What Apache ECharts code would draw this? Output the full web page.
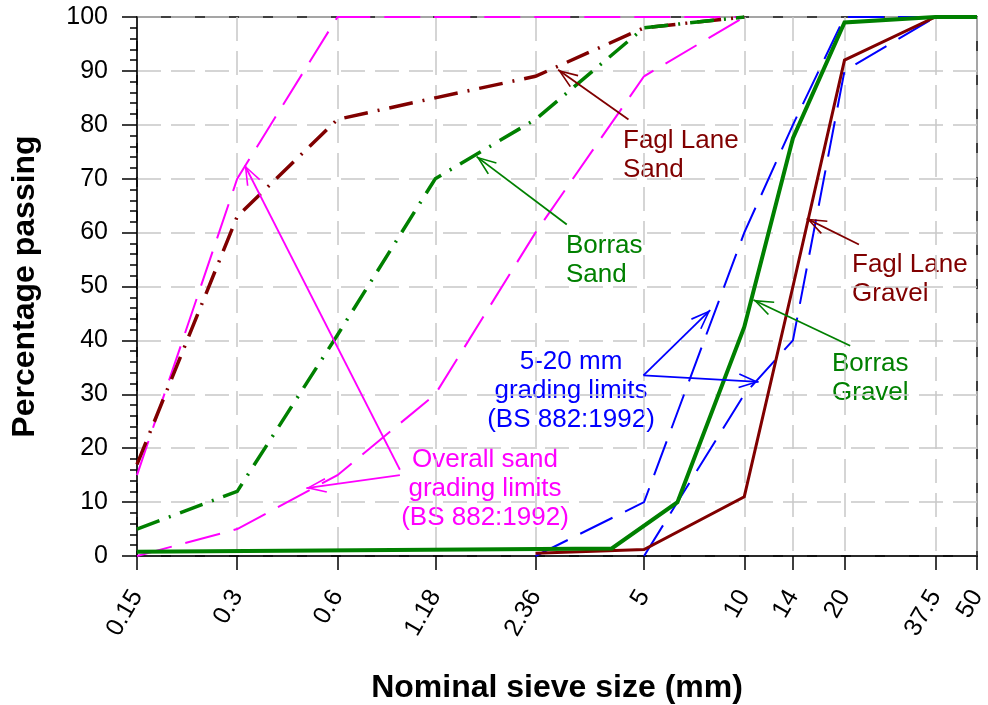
<!DOCTYPE html>
<html>
<head>
<meta charset="utf-8">
<title>Grading curves</title>
<script src="https://cdn.jsdelivr.net/npm/echarts@6.0.0/dist/echarts.min.js"></script>
<style>
  html, body { margin: 0; padding: 0; background: #fff; }
  #chart { width: 988px; height: 705px; }
</style>
</head>
<body>
<div id="chart"></div>
<script>
// Sieve sizes shown on the x axis (mm) and their labels
const sieveTicks = [0.15, 0.3, 0.6, 1.18, 2.36, 5, 10, 14, 20, 37.5, 50];
const sieveTickLabels = ['0.15', '0.3', '0.6', '1.18', '2.36', '5', '10', '14', '20', '37.5', '50'];

// BS 882:1992 overall sand grading limits
const sandUpperSize = [0.15, 0.3, 0.6, 1.18, 2.36, 5, 10];
const sandUpperPass = [15, 70, 100, 100, 100, 100, 100];
const sandLowerSize = [0.15, 0.3, 0.6, 1.18, 2.36, 5, 10];
const sandLowerPass = [0, 5, 15, 30, 60, 89, 100];

// BS 882:1992 5-20 mm graded aggregate limits
const gravelUpperSize = [2.36, 5, 10, 14, 20, 37.5, 50];
const gravelUpperPass = [0, 10, 60, 80, 100, 100, 100];
const gravelLowerSize = [5, 10, 14, 20, 37.5, 50];
const gravelLowerPass = [0, 30, 40, 90, 100, 100];

// Measured gradings
const faglSandSize = [0.15, 0.3, 0.6, 1.18, 2.36, 5, 10];
const faglSandPass = [17, 63, 81, 85, 89, 98, 100];
const borrasSandSize = [0.15, 0.3, 0.6, 1.18, 2.36, 5, 10];
const borrasSandPass = [5, 12, 41, 70, 81, 98, 100];
const borrasGravelSize = [0.15, 4, 6.3, 10, 14, 20, 37.5, 50];
const borrasGravelPass = [0.8, 1.4, 10, 42.5, 77.5, 99, 100, 100];
const faglGravelSize = [2.36, 5, 10, 14, 20, 37.5, 50];
const faglGravelPass = [0.5, 1.2, 11, 50, 92, 100, 100];

const pairs = (xs, ys) => xs.map((x, i) => [x, ys[i]]);

const MAGENTA = '#ff00ff';
const BLUE = '#0000ff';
const GREEN = '#008000';
const DARKRED = '#800000';
const FONT = 'Liberation Sans, Arial, sans-serif';

// Open "V" arrowhead; the invisible speck above keeps the tip at the symbol centre
const ARROW = 'path://M0,-18L0.01,-18L0,-17.99Z M0,0L7,18L5.6,18.6L0,4.0L-5.6,18.6L-7,18Z';

function pointer(color, lines) {
  return {
    silent: true,
    symbol: ['none', ARROW],
    symbolSize: [15, 40],
    label: { show: false },
    lineStyle: { color: color, width: 1.8, type: 'solid' },
    emphasis: { disabled: true },
    data: lines.map(l => [{ coord: l[0] }, { coord: l[1] }])
  };
}

function lineSeries(name, data, color, width, dash, extra) {
  return Object.assign({
    name: name,
    type: 'line',
    data: data,
    symbol: 'none',
    silent: true,
    animation: false,
    lineStyle: { color: color, width: width, type: dash, cap: 'butt', join: 'miter' }
  }, extra || {});
}

const chart = echarts.init(document.getElementById('chart'), null, { renderer: 'canvas' });

const option = {
  animation: false,
  backgroundColor: '#fff',
  grid: {
    left: 137, right: 11, top: 17, bottom: 149,
    outerBoundsMode: 'none',
    containLabel: false,
    show: true, borderColor: '#000', borderWidth: 1.5, backgroundColor: 'transparent'
  },
  xAxis: {
    type: 'log',
    logBase: 10,
    min: 0.15,
    max: 50,
    name: 'Nominal sieve size (mm)',
    nameLocation: 'middle',
    nameGap: 116,
    nameMoveOverlap: false,
    nameTextStyle: { fontFamily: FONT, fontSize: 32, fontWeight: 'bold', color: '#000' },
    axisLine: { show: true, lineStyle: { color: '#000', width: 1.5 } },
    axisTick: { show: true, length: 14, lineStyle: { color: '#000', width: 1.5 }, customValues: sieveTicks },
    axisLabel: {
      customValues: sieveTicks,
      rotate: 60,
      margin: 36,
      fontFamily: FONT,
      fontSize: 25,
      color: '#000',
      formatter: function (v) {
        for (let i = 0; i < sieveTicks.length; i++) {
          if (Math.abs(sieveTicks[i] - v) < 1e-6 * sieveTicks[i]) return sieveTickLabels[i];
        }
        return '';
      }
    },
    splitLine: { show: true, lineStyle: { color: '#c8c8c8', width: 1.5, type: [24, 10] } },
    minorTick: { show: false },
    minorSplitLine: { show: false }
  },
  yAxis: {
    type: 'value',
    min: 0,
    max: 100,
    interval: 10,
    name: 'Percentage passing',
    nameLocation: 'middle',
    nameGap: 96,
    nameMoveOverlap: false,
    nameTextStyle: { fontFamily: FONT, fontSize: 32, fontWeight: 'bold', color: '#000' },
    axisLine: { show: true, lineStyle: { color: '#000', width: 1.5 } },
    axisTick: { show: true, length: 15, lineStyle: { color: '#000', width: 1.5 } },
    minorTick: { show: true, splitNumber: 5, length: 7, lineStyle: { color: '#000', width: 1.5 } },
    axisLabel: { margin: 29, fontFamily: FONT, fontSize: 25, color: '#000' },
    splitLine: { show: true, lineStyle: { color: '#c8c8c8', width: 1.5, type: [24, 10] } }
  },
  series: [
    lineSeries('Overall sand upper limit', pairs(sandUpperSize, sandUpperPass), MAGENTA, 2, [36, 14], {
      markLine: pointer(MAGENTA, [
        [[0.924, 16.0], [0.316, 72.5]],
        [[0.924, 15.0], [0.484, 12.6]]
      ])
    }),
    lineSeries('Overall sand lower limit', pairs(sandLowerSize, sandLowerPass), MAGENTA, 2, [36, 14]),
    lineSeries('5-20 mm upper limit', pairs(gravelUpperSize, gravelUpperPass), BLUE, 2, [36, 14], {
      markLine: pointer(BLUE, [
        [[4.98, 33.5], [7.9, 45.6]],
        [[4.98, 33.5], [11.04, 32.3]]
      ])
    }),
    lineSeries('5-20 mm lower limit', pairs(gravelLowerSize, gravelLowerPass), BLUE, 2, [36, 14]),
    lineSeries('Fagl Lane Sand', pairs(faglSandSize, faglSandPass), DARKRED, 3.5, [24, 10, 2, 10], {
      markLine: pointer(DARKRED, [[[4.49, 81.0], [2.76, 90.2]]])
    }),
    lineSeries('Borras Sand', pairs(borrasSandSize, borrasSandPass), GREEN, 3.5, [24, 10, 2, 10], {
      markLine: pointer(GREEN, [[[2.93, 61.5], [1.571, 74.1]]])
    }),
    lineSeries('Fagl Lane Gravel', pairs(faglGravelSize, faglGravelPass), DARKRED, 3, 'solid', {
      markLine: pointer(DARKRED, [[[22.1, 57.8], [15.4, 62.6]]])
    }),
    lineSeries('Borras Gravel', pairs(borrasGravelSize, borrasGravelPass), GREEN, 4, 'solid', {
      markLine: pointer(GREEN, [[[20.8, 39.0], [10.66, 47.5]]])
    })
  ],
  graphic: [
    { type: 'text', left: 623, top: 126, silent: true,
      style: { text: 'Fagl Lane\nSand', fill: DARKRED, font: '26px ' + FONT, lineHeight: 29 } },
    { type: 'text', left: 566, top: 231, silent: true,
      style: { text: 'Borras\nSand', fill: GREEN, font: '26px ' + FONT, lineHeight: 29 } },
    { type: 'text', left: 852, top: 250, silent: true,
      style: { text: 'Fagl Lane\nGravel', fill: DARKRED, font: '26px ' + FONT, lineHeight: 29 } },
    { type: 'text', left: 832, top: 349, silent: true,
      style: { text: 'Borras\nGravel', fill: GREEN, font: '26px ' + FONT, lineHeight: 29 } },
    { type: 'text', x: 571, y: 391, silent: true,
      style: { text: '5-20 mm\ngrading limits\n(BS 882:1992)', fill: BLUE, font: '26px ' + FONT,
               lineHeight: 29, align: 'center', verticalAlign: 'middle' } },
    { type: 'text', x: 485, y: 489, silent: true,
      style: { text: 'Overall sand\ngrading limits\n(BS 882:1992)', fill: MAGENTA, font: '26px ' + FONT,
               lineHeight: 29, align: 'center', verticalAlign: 'middle' } }
  ]
};

chart.setOption(option);
</script>
</body>
</html>
